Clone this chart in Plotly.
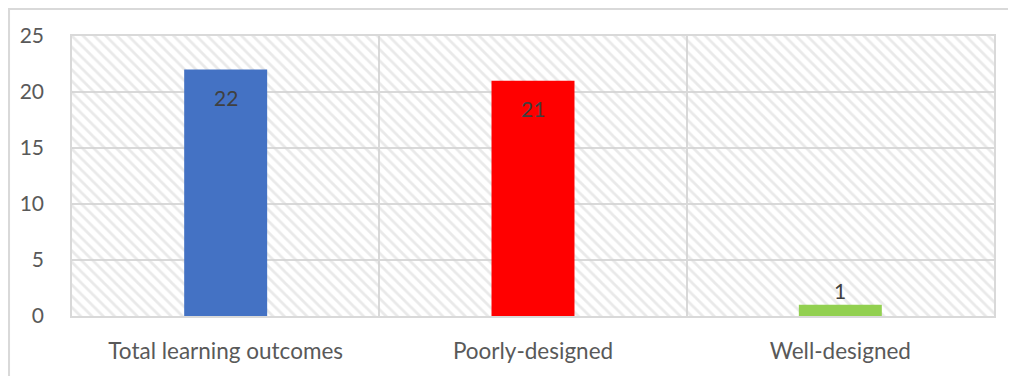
import plotly.graph_objects as go

# chart data
categories = ["Total learning outcomes", "Poorly-designed", "Well-designed"]
counts = [22, 21, 1]
bar_colors = ["#4472c4", "#ff0000", "#92d050"]
y_max = 25

fig = go.Figure()

# hatched plot background, one full-width block per category
fig.add_trace(go.Bar(
    x=categories, y=[y_max] * len(categories), width=1,
    marker=dict(color="rgba(0,0,0,0)", line=dict(width=0),
                pattern=dict(shape="\\", fgcolor="#d4d4d4", bgcolor="rgba(0,0,0,0)",
                             size=8, solidity=0.35)),
    hoverinfo="skip", showlegend=False,
))

fig.add_trace(go.Bar(
    x=categories, y=counts, width=0.27,
    marker=dict(color=bar_colors, line=dict(width=0)),
    showlegend=False,
))

# data labels: inside near the top for tall bars, above for short ones
for cat, v in zip(categories, counts):
    fig.add_annotation(x=cat, y=v, text=str(v), showarrow=False,
                       yanchor="top" if v > 3 else "bottom",
                       yshift=-13 if v > 3 else 0,
                       font=dict(size=21, color="#404040"))

# outer chart border
fig.add_shape(type="rect", xref="paper", yref="paper",
              x0=-0.0683, x1=1.06, y0=-0.3, y1=1.0964,
              line=dict(color="#d9d9d9", width=2), layer="below")

fig.update_layout(
    width=1016, height=376,
    margin=dict(l=64, r=30, t=28, b=68),
    barmode="overlay",
    plot_bgcolor="white", paper_bgcolor="white",
    font=dict(family="Lato, Open Sans, sans-serif", size=21, color="#595959"),
    xaxis=dict(tickson="boundaries", showgrid=True, gridcolor="#d9d9d9", gridwidth=1.5,
               showline=True, linecolor="#d9d9d9", linewidth=1.5, mirror=True,
               ticks="", ticklen=0, tickfont=dict(size=22.5, color="#595959"),
               ticklabelstandoff=14),
    yaxis=dict(range=[0, y_max], dtick=5, showgrid=True, gridcolor="#d9d9d9", gridwidth=1.5,
               showline=True, linecolor="#d9d9d9", linewidth=1.5, mirror=True,
               zeroline=False, ticks="", tickfont=dict(size=21, color="#595959"),
               ticklabelstandoff=22),
)

fig.write_html("out.html")
